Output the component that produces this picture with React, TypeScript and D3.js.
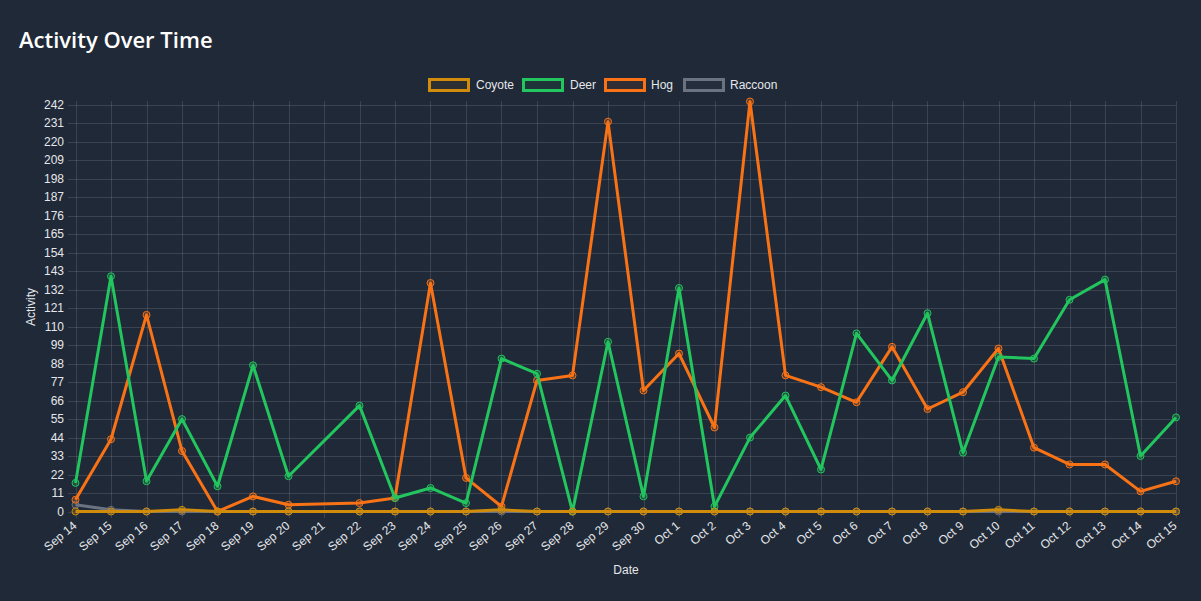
import React from "react";
import * as d3 from "d3";

const dates = [
  "2024-09-14", "2024-09-15", "2024-09-16", "2024-09-17", "2024-09-18", "2024-09-19", "2024-09-20",
  "2024-09-22", "2024-09-23", "2024-09-24", "2024-09-25", "2024-09-26", "2024-09-27", "2024-09-28",
  "2024-09-29", "2024-09-30", "2024-10-01", "2024-10-02", "2024-10-03", "2024-10-04", "2024-10-05",
  "2024-10-06", "2024-10-07", "2024-10-08", "2024-10-09", "2024-10-10", "2024-10-11", "2024-10-12",
  "2024-10-13", "2024-10-14", "2024-10-15",
];
const coyote = [0, 0, 0, 1, 0, 0, 0, 0, 0, 0, 0, 1, 0, 0, 0, 0, 0, 0, 0, 0, 0, 0, 0, 0, 0, 1, 0, 0, 0, 0, 0];
const deer = [17, 140, 18, 55, 15, 87, 21, 63, 8, 14, 5, 91, 82, 0, 101, 9, 133, 3, 44, 69, 25, 106, 78, 118, 35, 92, 91, 126, 138, 33, 56];
const hog = [7, 43, 117, 36, 0, 9, 4, 5, 8, 136, 20, 3, 78, 81, 232, 72, 94, 50, 244, 81, 74, 65, 98, 61, 71, 97, 38, 28, 28, 12, 18];
const raccoon = [4, 1, 0, 0, 0, 0, 0, 0, 0, 0, 0, 0, 0, 0, 0, 0, 0, 0, 0, 0, 0, 0, 0, 0, 0, 0, 0, 0, 0, 0, 0];
const yTicks = [0, 11, 22, 33, 44, 55, 66, 77, 88, 99, 110, 121, 132, 143, 154, 165, 176, 187, 198, 209, 220, 231, 242];

const seriesNames = ["Coyote", "Deer", "Hog", "Raccoon"];
const seriesValues = [coyote, deer, hog, raccoon];
const seriesColors = ["#d08c0a", "#22c55e", "#f97316", "#6b7280"];

const W = 1201;
const H = 601;
const BG = "#1f2937";
const TEXT = "#e5e7eb";
const GRID = "rgba(255,255,255,0.12)";

export default function App() {
  const parse = d3.utcParse("%Y-%m-%d");
  const xDates = dates.map((d) => parse(d) as Date);
  const x = d3
    .scaleUtc()
    .domain([parse("2024-09-14") as Date, parse("2024-10-15") as Date])
    .range([75.5, 1176]);
  const y = d3.scaleLinear().domain([0, 244]).range([511.5, 101.5]);
  const xTicks = d3.utcDay.range(x.domain()[0], d3.utcDay.offset(x.domain()[1], 1));
  const fmt = d3.utcFormat("%b %-d");

  const line = d3
    .line<number>()
    .x((_, i) => x(xDates[i]))
    .y((v) => y(v));

  const legendItems = [
    { bx: 428, tx: 476 },
    { bx: 522, tx: 570 },
    { bx: 604, tx: 651 },
    { bx: 683, tx: 730 },
  ];

  const order = [3, 2, 1, 0];

  return (
    <svg
      width={W}
      height={H}
      style={{ position: "absolute", left: 0, top: 0, display: "block" }}
      fontFamily="'Liberation Sans', Arial, sans-serif"
    >
      <rect x={0} y={0} width={W} height={H} fill={BG} />
      <text x={19} y={48} fill="#ffffff" fontSize={22} fontWeight={600} fontFamily="'Open Sans', 'Noto Sans', sans-serif">
        Activity Over Time
      </text>

      {/* legend */}
      {seriesNames.map((n, i) => (
        <g key={n}>
          <rect
            x={legendItems[i].bx + 1.5}
            y={79.5}
            width={39}
            height={11}
            fill={d3.color(seriesColors[i])!.copy({ opacity: 0.08 }).toString()}
            stroke={seriesColors[i]}
            strokeWidth={3}
          />
          <text x={legendItems[i].tx} y={89} fill={TEXT} fontSize={12}>
            {n}
          </text>
        </g>
      ))}

      {/* grid */}
      {yTicks.map((t) => (
        <g key={"y" + t}>
          <line x1={68} x2={1176} y1={Math.round(y(t)) + 0.5} y2={Math.round(y(t)) + 0.5} stroke={GRID} strokeWidth={1} />
          <text x={64} y={y(t) + 4} fill={TEXT} fontSize={12} textAnchor="end">
            {t}
          </text>
        </g>
      ))}
      {xTicks.map((d) => {
        const xx = Math.round(x(d)) + 0.5;
        return (
          <g key={"x" + d.getTime()}>
            <line x1={xx} x2={xx} y1={101} y2={518} stroke={GRID} strokeWidth={1} />
            <text
              transform={`translate(${xx + 1},${527}) rotate(-40)`}
              fill={TEXT}
              fontSize={12}
              textAnchor="end"
            >
              {fmt(d)}
            </text>
          </g>
        );
      })}

      <text transform="translate(35,307) rotate(-90)" fill={TEXT} fontSize={12} textAnchor="middle">
        Activity
      </text>
      <text x={626} y={574} fill={TEXT} fontSize={12} textAnchor="middle">
        Date
      </text>

      {/* series */}
      {order.map((si) => (
        <g key={seriesNames[si]}>
          <path d={line(seriesValues[si]) || ""} fill="none" stroke={seriesColors[si]} strokeWidth={3} strokeLinejoin="round" />
          {seriesValues[si].map((v, i) => (
            <circle
              key={i}
              cx={x(xDates[i])}
              cy={y(v)}
              r={3.5}
              fill={d3.color(seriesColors[si])!.copy({ opacity: 0.25 }).toString()}
              stroke={seriesColors[si]}
              strokeWidth={1}
            />
          ))}
        </g>
      ))}
    </svg>
  );
}
